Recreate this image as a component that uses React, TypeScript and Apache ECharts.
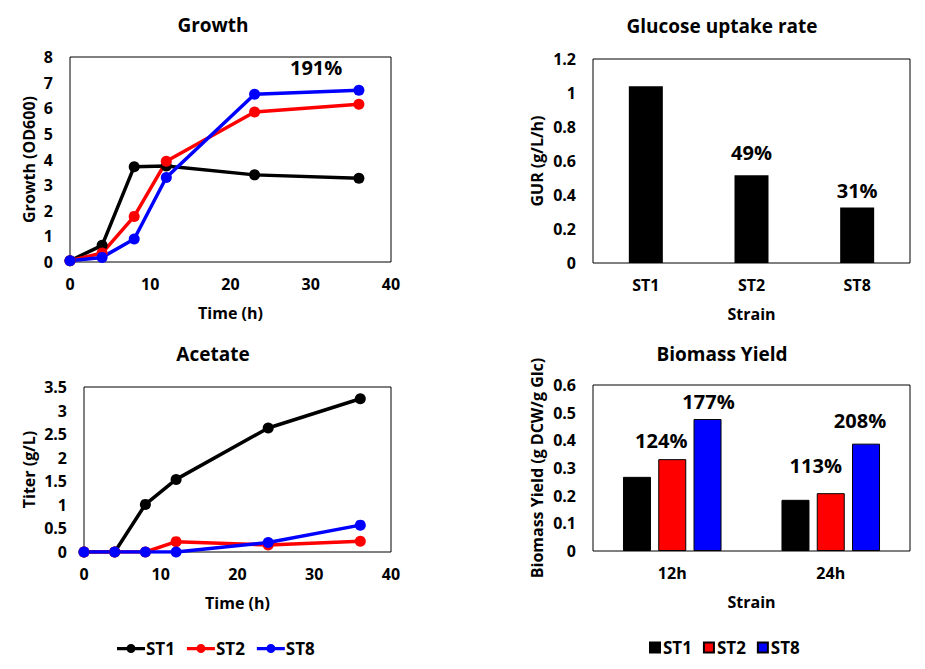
import React, { useEffect, useRef } from "react";
import * as echarts from "echarts";

const strains = ["ST1", "ST2", "ST8"];
const colors = ["#000000", "#FF0000", "#0000FF"];

// Growth (OD600)
const growthTime = [0, 4, 8, 12, 23, 36];
const growthST1 = [0.05, 0.65, 3.72, 3.75, 3.4, 3.27];
const growthST2 = [0.05, 0.35, 1.78, 3.93, 5.85, 6.16];
const growthST8 = [0.05, 0.18, 0.9, 3.3, 6.55, 6.7];
const growthNote = "191%";

// Glucose uptake rate (g/L/h)
const gurCategories = ["ST1", "ST2", "ST8"];
const gurValues = [1.04, 0.516, 0.327];
const gurLabels = ["", "49%", "31%"];

// Acetate titer (g/L)
const acetateTime = [0, 4, 8, 12, 24, 36];
const acetateST1 = [0, 0, 1.01, 1.54, 2.63, 3.25];
const acetateST2 = [0, 0, 0, 0.22, 0.15, 0.23];
const acetateST8 = [0, 0, 0, 0, 0.2, 0.57];

// Biomass yield (g DCW / g Glc)
const yieldCategories = ["12h", "24h"];
const yieldST1 = [0.268, 0.185];
const yieldST2 = [0.332, 0.209];
const yieldST8 = [0.477, 0.388];
const yieldLabelsST2 = ["124%", "113%"];
const yieldLabelsST8 = ["177%", "208%"];

const FONT = "'Open Sans', 'Noto Sans', sans-serif";
const LINE_ICON =
  "path://M0,4.5h28v3.2h-28z M9.5,6a4.5,4.5 0 1,1 9,0a4.5,4.5 0 1,1 -9,0z";

export default function App() {
  const ref = useRef<HTMLDivElement>(null);
  useEffect(() => {
    if (!ref.current) return;
    const chart = echarts.init(ref.current, null, { renderer: "svg" });
    const tickStyle = { color: "#000", fontFamily: FONT, fontWeight: "bold" as const, fontSize: 16 };
    const nameStyle = { color: "#000", fontFamily: FONT, fontWeight: "bold" as const, fontSize: 16 };
    const pctStyle = { color: "#000", fontFamily: FONT, fontWeight: "bold" as const, fontSize: 20 };

    const grids = [
      { left: 70, top: 57, width: 321, height: 205 },
      { left: 593, top: 59, width: 317, height: 204 },
      { left: 84, top: 387, width: 307, height: 165 },
      { left: 593, top: 385, width: 317, height: 166 },
    ].map((g) => ({ ...g, show: true, borderColor: "#000", borderWidth: 1, backgroundColor: "transparent" }));

    const valueX = (gridIndex: number, name: string) => ({
      type: "value" as const,
      gridIndex,
      min: 0,
      max: 40,
      interval: 10,
      name,
      nameLocation: "middle" as const,
      nameGap: 43,
      nameTextStyle: nameStyle,
      axisLine: { show: false },
      axisTick: { show: false },
      splitLine: { show: false },
      axisLabel: { ...tickStyle, margin: 14 },
    });
    const catX = (gridIndex: number, data: string[]) => ({
      type: "category" as const,
      gridIndex,
      data,
      name: "Strain",
      nameLocation: "middle" as const,
      nameGap: 43,
      nameTextStyle: nameStyle,
      axisLine: { show: false },
      axisTick: { show: false },
      splitLine: { show: false },
      axisLabel: { ...tickStyle, margin: 14 },
    });
    const valueY = (gridIndex: number, name: string, max: number, interval: number, gap: number) => ({
      type: "value" as const,
      gridIndex,
      min: 0,
      max,
      interval,
      name,
      nameLocation: "middle" as const,
      nameGap: gap,
      nameTextStyle: nameStyle,
      axisLine: { show: false },
      axisTick: { show: false },
      splitLine: { show: false },
      axisLabel: { ...tickStyle, margin: 17 },
    });

    const lineSeries = (name: string, xi: number, xs: number[], ys: number[], color: string) => ({
      type: "line" as const,
      name,
      xAxisIndex: xi,
      yAxisIndex: xi,
      data: xs.map((x, i) => [x, ys[i]]),
      symbol: "circle",
      symbolSize: 11,
      itemStyle: { color },
      lineStyle: { color, width: 3.5 },
    });

    const barData = (vals: number[], labels: string[], offsets: number[][]) =>
      vals.map((v, i) => ({
        value: v,
        label: {
          show: labels[i] !== "",
          formatter: labels[i],
          position: "top" as const,
          offset: offsets[i],
          ...pctStyle,
        },
      }));

    chart.setOption({
      animation: false,
      backgroundColor: "#fff",
      title: [
        { text: "Growth", left: 208, top: 10 },
        { text: "Glucose uptake rate", left: 717, top: 11 },
        { text: "Acetate", left: 208, top: 339 },
        { text: "Biomass Yield", left: 717, top: 339 },
      ].map((t) => ({
        ...t,
        textAlign: "center",
        textStyle: { color: "#000", fontFamily: FONT, fontWeight: "bold", fontSize: 19 },
      })),
      grid: grids,
      xAxis: [
        valueX(0, "Time (h)"),
        catX(1, gurCategories),
        valueX(2, "Time (h)"),
        catX(3, yieldCategories),
      ],
      yAxis: [
        valueY(0, "Growth (OD600)", 8, 1, 33),
        valueY(1, "GUR (g/L/h)", 1.2, 0.2, 48),
        valueY(2, "Titer (g/L)", 3.5, 0.5, 47),
        valueY(3, "Biomass Yield (g DCW/g Glc)", 0.6, 0.1, 48),
      ],
      legend: [
        {
          data: strains.map((s, i) => ({ name: s, icon: LINE_ICON, itemStyle: { color: colors[i] } })),
          left: 112,
          top: 635,
          itemWidth: 28,
          itemHeight: 9,
          itemGap: 12,
          textStyle: { color: "#000", fontFamily: FONT, fontWeight: "bold", fontSize: 17, padding: [0, 0, 0, -4] },
          selectedMode: false,
        },
        {
          data: strains.map((s) => "Bar " + s),
          formatter: (n: string) => n.replace("Bar ", ""),
          left: 644,
          top: 634,
          itemWidth: 10,
          itemHeight: 10,
          itemGap: 11,
          icon: "rect",
          textStyle: { color: "#000", fontFamily: FONT, fontWeight: "bold", fontSize: 17, padding: [0, 0, 0, -2] },
          selectedMode: false,
        },
      ],
      graphic: [
        {
          type: "text",
          left: 290,
          top: 57,
          style: { text: growthNote, fill: "#000", font: `bold 20px ${FONT}` },
        },
      ],
      series: [
        lineSeries("ST1", 0, growthTime, growthST1, colors[0]),
        lineSeries("ST2", 0, growthTime, growthST2, colors[1]),
        lineSeries("ST8", 0, growthTime, growthST8, colors[2]),
        {
          type: "bar",
          name: "GUR",
          xAxisIndex: 1,
          yAxisIndex: 1,
          barWidth: 34,
          itemStyle: { color: "#000" },
          data: barData(gurValues, gurLabels, [[0, 0], [0, -8], [0, -2]]),
        },
        lineSeries("ST1", 2, acetateTime, acetateST1, colors[0]),
        lineSeries("ST2", 2, acetateTime, acetateST2, colors[1]),
        lineSeries("ST8", 2, acetateTime, acetateST8, colors[2]),
        {
          type: "bar",
          name: "Bar ST1",
          xAxisIndex: 3,
          yAxisIndex: 3,
          barWidth: 28,
          barGap: "26%",
          itemStyle: { color: colors[0], borderColor: "#000", borderWidth: 1 },
          data: yieldST1,
        },
        {
          type: "bar",
          name: "Bar ST2",
          xAxisIndex: 3,
          yAxisIndex: 3,
          barWidth: 28,
          barGap: "26%",
          itemStyle: { color: colors[1], borderColor: "#000", borderWidth: 1 },
          data: barData(yieldST2, yieldLabelsST2, [[-11, -4], [-15, -13]]),
        },
        {
          type: "bar",
          name: "Bar ST8",
          xAxisIndex: 3,
          yAxisIndex: 3,
          barWidth: 28,
          barGap: "26%",
          itemStyle: { color: colors[2], borderColor: "#000", borderWidth: 1 },
          data: barData(yieldST8, yieldLabelsST8, [[1, -3], [-6, -8]]),
        },
      ],
    });
    return () => chart.dispose();
  }, []);
  return (
    <div
      ref={ref}
      style={{ position: "fixed", left: 0, top: 0, width: 925, height: 669, background: "#fff" }}
    />
  );
}
